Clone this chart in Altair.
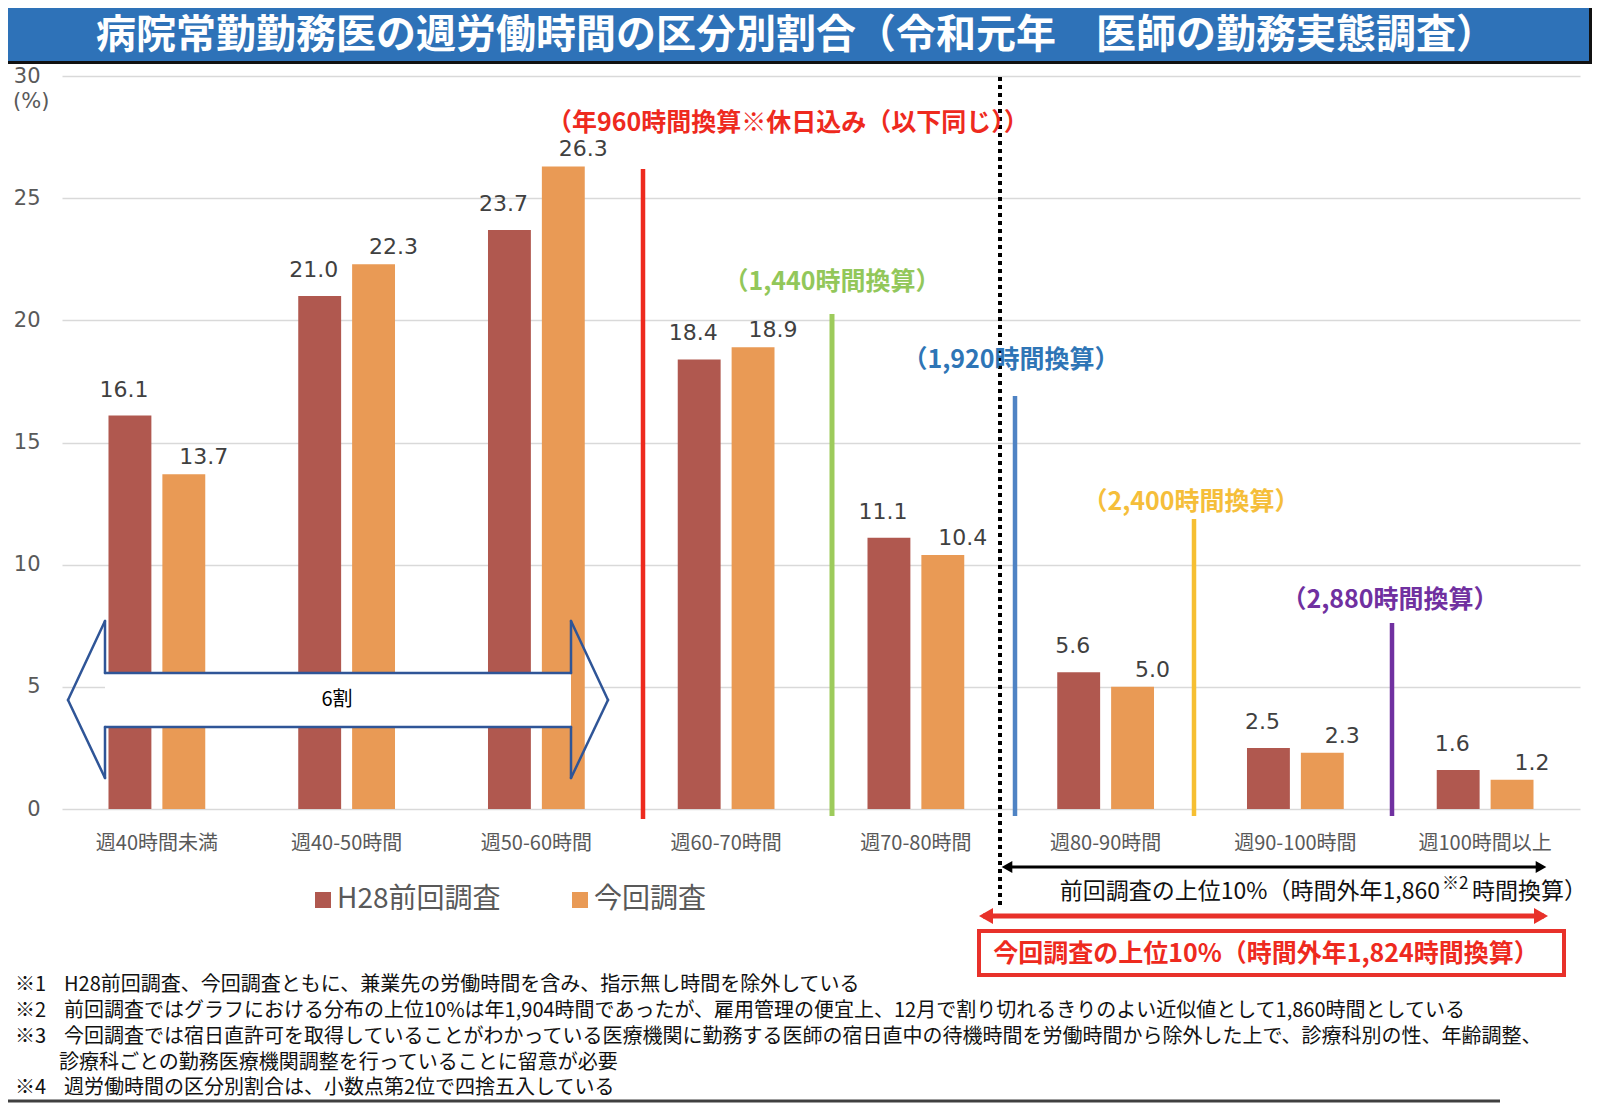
import altair as alt
import pandas as pd

# ---------------- data ----------------
categories = ["週40時間未満", "週40-50時間", "週50-60時間", "週60-70時間",
              "週70-80時間", "週80-90時間", "週90-100時間", "週100時間以上"]
series = ["H28前回調査", "今回調査"]
h28_values = [16.1, 21.0, 23.7, 18.4, 11.1, 5.6, 2.5, 1.6]
r1_values = [13.7, 22.3, 26.3, 18.9, 10.4, 5.0, 2.3, 1.2]
y_ticks = [0, 5, 10, 15, 20, 25, 30]

title_text = "病院常勤勤務医の週労働時間の区分別割合（令和元年　医師の勤務実態調査）"
note_marks = ["※1", "※2", "※3", "", "※4"]
note_texts = [
    "H28前回調査、今回調査ともに、兼業先の労働時間を含み、指示無し時間を除外している",
    "前回調査ではグラフにおける分布の上位10%は年1,904時間であったが、雇用管理の便宜上、12月で割り切れるきりのよい近似値として1,860時間としている",
    "今回調査では宿日直許可を取得していることがわかっている医療機関に勤務する医師の宿日直中の待機時間を労働時間から除外した上で、診療科別の性、年齢調整、",
    "診療科ごとの勤務医療機関調整を行っていることに留意が必要",
    "週労働時間の区分別割合は、小数点第2位で四捨五入している",
]

rows = []
for c, a, b in zip(categories, h28_values, r1_values):
    rows.append({"cat": c, "series": series[0], "value": a})
    rows.append({"cat": c, "series": series[1], "value": b})
df = pd.DataFrame(rows)

# ---------------- styling ----------------
JP = "Noto Sans CJK JP"
NUM = "DejaVu Sans"
bar_colors = ["#B0584F", "#E99A55"]
W, H = 1518, 733
X0, Y0 = 62, 76  # plot origin in page pixels


def px(x):
    return x - X0


def py(y):
    return y - Y0


one = pd.DataFrame({"k": [0]})


def text_at(s, x, y, size, color, weight="normal", align="center", font=JP, baseline="middle"):
    return alt.Chart(one).mark_text(
        text=s, fontSize=size, color=color, fontWeight=weight, align=align,
        baseline=baseline, font=font
    ).encode(x=alt.value(px(x)), y=alt.value(py(y)))


def vrule(x, y1, y2, color, width, dash=None):
    kw = dict(color=color, strokeWidth=width)
    if dash:
        kw["strokeDash"] = dash
    return alt.Chart(one).mark_rule(**kw).encode(
        x=alt.value(px(x)), y=alt.value(py(y1)), y2=alt.value(py(y2)))


def hrule(x1, x2, y, color, width):
    return alt.Chart(one).mark_rule(color=color, strokeWidth=width).encode(
        x=alt.value(px(x1)), x2=alt.value(px(x2)), y=alt.value(py(y)))


def seg(p, q, color, width):
    return alt.Chart(one).mark_rule(color=color, strokeWidth=width, strokeCap="round").encode(
        x=alt.value(px(p[0])), x2=alt.value(px(q[0])),
        y=alt.value(py(p[1])), y2=alt.value(py(q[1])))


def rect_at(x1, x2, y1, y2, fill, stroke=None, width=0):
    kw = dict(fill=fill)
    if stroke:
        kw["stroke"] = stroke
        kw["strokeWidth"] = width
    return alt.Chart(one).mark_rect(**kw).encode(
        x=alt.value(px(x1)), x2=alt.value(px(x2)),
        y=alt.value(py(y1)), y2=alt.value(py(y2)))


def tri(x, y, shape, size, color):
    return alt.Chart(one).mark_point(shape=shape, filled=True, size=size, color=color, opacity=1,
                                     strokeWidth=0).encode(
        x=alt.value(px(x)), y=alt.value(py(y)))


xenc = alt.X("cat:N", sort=categories,
             scale=alt.Scale(paddingInner=0.49, paddingOuter=0.245),
             axis=alt.Axis(title=None, labelAngle=0, labelFont=JP, labelFontSize=20,
                           labelColor="#595959", domain=False, ticks=False, labelPadding=24))
xoff = alt.XOffset("series:N", sort=series, scale=alt.Scale(paddingInner=0.204, paddingOuter=0))
yenc = alt.Y("value:Q", scale=alt.Scale(domain=[0, 30], nice=False),
             axis=alt.Axis(values=y_ticks, title=None, grid=True, gridColor="#D9D9D9",
                           gridWidth=1.5, domain=False, ticks=False, labelFont=NUM,
                           labelFontSize=21, labelColor="#595959", labelPadding=22,
                           labelFlush=False))

bars = alt.Chart(df).mark_bar().encode(
    x=xenc, xOffset=xoff, y=yenc,
    color=alt.Color("series:N", sort=series,
                    scale=alt.Scale(domain=series, range=bar_colors),
                    legend=alt.Legend(orient="none", legendX=247, legendY=810,
                                      direction="horizontal", title=None,
                                      labelFontSize=28, labelFont=JP, labelColor="#595959",
                                      labelLimit=400,
                                      symbolType="square", symbolSize=256,
                                      symbolStrokeWidth=0, labelOffset=0,
                                      columnPadding=65, padding=0)),
)

labels_a = alt.Chart(df).transform_filter(alt.datum.series == series[0]).mark_text(
    font=NUM, fontSize=22, color="#404040", dx=-6, dy=-26, baseline="middle"
).encode(x=xenc, xOffset=xoff, y=yenc, text=alt.Text("value:Q", format=".1f"))

labels_b = alt.Chart(df).transform_filter(alt.datum.series == series[1]).mark_text(
    font=NUM, fontSize=22, color="#404040", dx=20, dy=-17, baseline="middle"
).encode(x=xenc, xOffset=xoff, y=yenc, text=alt.Text("value:Q", format=".1f"))

# "6割" block double arrow outline (annotation geometry, page pixels)
A_TIP_L, A_TIP_R = (68, 700), (608, 700)
A_LT, A_LB = (105, 621), (105, 778)
A_LST, A_LSB = (105, 673), (105, 727)
A_RST, A_RSB = (571, 673), (571, 727)
A_RT, A_RB = (571, 621), (571, 778)
arrow_poly = [A_TIP_L, A_LT, A_LST, A_RST, A_RT, A_TIP_R, A_RB, A_RSB, A_LSB, A_LB, A_TIP_L]
ARROW_COLOR = "#2F5597"

layers = [bars, labels_a, labels_b,
          rect_at(105, 571, 673, 727, "#FFFFFF")]
for p, q in zip(arrow_poly[:-1], arrow_poly[1:]):
    layers.append(seg(p, q, ARROW_COLOR, 2.5))

layers += [
    text_at("6割", 337, 700, 20, "#000000"),
    # title bar
    rect_at(8, 1592, 8, 61, "#2E72B8"),
    hrule(8, 1592, 62.5, "#111111", 3),
    vrule(1590.5, 8, 64, "#111111", 3),
    text_at(title_text, 796, 36, 40, "#FFFFFF", weight="bold"),
    text_at("(%)", 13, 102, 21, "#595959", align="left", font=NUM),
    # threshold lines
    vrule(643, 169, 819, "#EE2A1E", 4.5),
    vrule(832, 314, 816, "#9DCB5B", 5),
    vrule(1015, 396, 816, "#4F83C4", 4.5),
    vrule(1194, 519, 816, "#F6BF32", 4.5),
    vrule(1392, 623, 816, "#7030A0", 4.5),
    vrule(1000, 77, 908, "#000000", 4, dash=[4, 4]),
    text_at("（年960時間換算※休日込み（以下同じ））", 547, 123, 25, "#EE2A1E", weight="bold", align="left"),
    text_at("（1,440時間換算）", 832, 282, 25, "#92C75A", weight="bold"),
    text_at("（1,920時間換算）", 1011, 360, 25, "#2E75B6", weight="bold"),
    text_at("（2,400時間換算）", 1191, 502, 25, "#F5BE3A", weight="bold"),
    text_at("（2,880時間換算）", 1390, 600, 25, "#7030A0", weight="bold"),
    # bottom arrows
    hrule(1005, 1543, 867, "#000000", 3),
    tri(1007, 867, "triangle-left", 150, "#000000"),
    tri(1541, 867, "triangle-right", 150, "#000000"),
    text_at("前回調査の上位10%（時間外年1,860", 1440, 892, 23, "#111111", align="right"),
    text_at("※2", 1442, 884, 17, "#111111", align="left"),
    text_at("時間換算）", 1472, 892, 23, "#111111", align="left"),
    hrule(983, 1544, 916, "#E8312A", 5),
    tri(986, 916, "triangle-left", 260, "#E8312A"),
    tri(1541, 916, "triangle-right", 260, "#E8312A"),
    rect_at(979, 1564, 931, 975, "#FFFFFF", stroke="#E8312A", width=4),
    text_at("今回調査の上位10%（時間外年1,824時間換算）", 1266, 954, 25, "#EE2A1E", weight="bold"),
    hrule(8, 1500, 1101, "#404040", 3),
]

note_y = [985, 1011, 1037, 1063, 1088]
for m, t, yy in zip(note_marks, note_texts, note_y):
    if m:
        layers.append(text_at(m, 15, yy, 20, "#111111", align="left"))
        layers.append(text_at(t, 64, yy, 20, "#111111", align="left"))
    else:
        layers.append(text_at(t, 59, yy, 20, "#111111", align="left"))

chart = alt.layer(*layers).properties(
    width=W, height=H,
    autosize=alt.AutoSizeParams(type="none"),
    padding={"left": 54, "top": 68, "right": 12, "bottom": 294},
).configure_view(stroke=None)

chart.save("out.html", embed_options={"renderer": "svg", "actions": False})
